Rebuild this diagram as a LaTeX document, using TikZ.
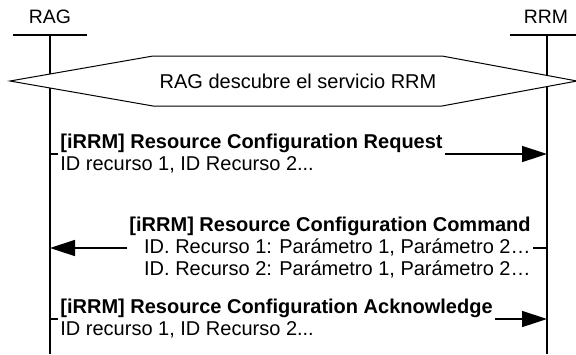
\documentclass[tikz,border=0pt]{standalone}
\usepackage{fontspec}
\setmainfont{Liberation Sans}
\usetikzlibrary{arrows.meta}
\begin{document}
\begin{tikzpicture}[x=0.5pt,y=-0.5pt,
  title/.style={inner sep=0pt, font=\fontsize{9.7}{11}\selectfont},
  life/.style={line width=0.8pt},
  bar/.style={line width=0.8pt},
  msg/.style={inner xsep=1pt, inner ysep=0pt, font=\fontsize{10}{11}\selectfont},
  arr/.style={line width=0.75pt, -{Triangle[length=12.5pt,width=8pt]}},
  tick/.style={line width=0.6pt},
  hex/.style={draw, fill=white, line width=0.5pt}
]
\useasboundingbox (0,0) rectangle (576,354);

% entities
\node[title] (rag) at (50,17) {RAG};
\node[title] (rrm) at (546,17) {RRM};
\coordinate (ragtop) at (50,35);
\coordinate (ragbot) at (50,354);
\coordinate (rrmtop) at (547,35);
\coordinate (rrmbot) at (547,354);
\coordinate (ragbarl) at (13,35);
\coordinate (ragbarr) at (87,35);
\coordinate (rrmbarl) at (510,35);
\coordinate (rrmbarr) at (576,35);
\draw[bar] (ragbarl) -- (ragbarr);
\draw[bar] (rrmbarl) -- (rrmbarr);
\draw[life] (ragtop) -- (ragbot);
\draw[life] (rrmtop) -- (rrmbot);

% discovery hexagon
\draw[hex] (10,81) -- (153,56) -- (442,56) -- (577,81) -- (442,106) -- (153,106) -- cycle;
\node[inner sep=0pt, font=\fontsize{10}{11}\selectfont] (disc) at (298,81) {RAG descubre el servicio RRM};

% message 1
\node[msg, align=left, anchor=west] (m1) at (58,154)
  {\textbf{[iRRM] Resource Configuration Request}\\ID recurso 1, ID Recurso 2...};
\draw[tick] (m1.west -| ragtop) -- (m1.west);
\draw[arr] (m1.east) -- (m1.east -| rrmtop);

% message 2
\node[msg, align=right, anchor=east] (m2) at (533,248)
  {\textbf{[iRRM] Resource Configuration Command}\\ID. Recurso 1: Parámetro 1, Parámetro 2…\\ID. Recurso 2: Parámetro 1, Parámetro 2…};
\draw[tick] (m2.east) -- (m2.east -| rrmtop);
\draw[arr] (m2.west) -- (m2.west -| ragtop);

% message 3
\node[msg, align=left, anchor=west] (m3) at (58,319)
  {\textbf{[iRRM] Resource Configuration Acknowledge}\\ID recurso 1, ID Recurso 2...};
\draw[tick] (m3.west -| ragtop) -- (m3.west);
\draw[arr] (m3.east) -- (m3.east -| rrmtop);
\end{tikzpicture}
\end{document}
